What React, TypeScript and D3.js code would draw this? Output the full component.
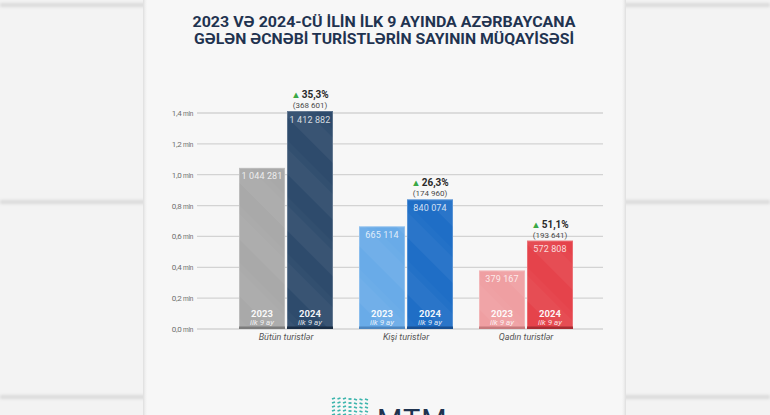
import React from "react";
import { scaleLinear, scaleBand, range } from "d3";

// data
const categories = ["Bütün turistlər", "Kişi turistlər", "Qadın turistlər"];
const years = ["2023", "2024"];
const values2023 = [1044281, 665114, 379167];
const values2024 = [1412882, 840074, 572808];
const changePct = ["35,3%", "26,3%", "51,1%"];
const changeAbs = ["(368 601)", "(174 960)", "(193 641)"];
const yTicks = [0, 200000, 400000, 600000, 800000, 1000000, 1200000, 1400000];
const yTickLabels = ["0,0", "0,2", "0,4", "0,6", "0,8", "1,0", "1,2", "1,4"];
const titleLines = [
  "2023 VƏ 2024-CÜ İLİN İLK 9 AYINDA AZƏRBAYCANA",
  "GƏLƏN ƏCNƏBİ TURİSTLƏRİN SAYININ MÜQAYİSƏSİ",
];

const barColors = [
  ["#a9a9a9", "#2e4b6c"],
  ["#69abe8", "#1f6ec6"],
  ["#ef9fa2", "#e5434b"],
];
const bottomColors = [
  ["#7c7c7c", "#1a2d44"],
  ["#4d86c0", "#184f92"],
  ["#c77a7d", "#a82c33"],
];

const fmt = (v: number) =>
  String(v).replace(/\B(?=(\d{3})+(?!\d))/g, " ");

const W = 770;
const H = 415;
const FONT = "Roboto, 'Noto Sans', sans-serif";

export default function App() {
  const y = scaleLinear().domain([0, 1400000]).range([329, 113]);
  const x = scaleBand<string>().domain(categories).range([226, 586]);
  const xi = scaleBand<string>()
    .domain(years)
    .range([0, 94])
    .paddingInner(2 / 48);
  const bw = xi.bandwidth();
  // left edge of a group's pair of bars, centred in its band
  const groupX = (c: string) => x(c)! + x.bandwidth() / 2 - 47;

  const grooves = [5, 202, 397];

  return (
    <div style={{ position: "absolute", left: 0, top: 0 }}>
      <svg width={W} height={H} style={{ display: "block" }}>
        <defs>
          <pattern
            id="stripes"
            patternUnits="userSpaceOnUse"
            width="40"
            height="40"
            patternTransform="rotate(-45)"
          >
            <rect width="18" height="40" fill="#fff" opacity="0.05" />
            <rect x="18" width="6" height="40" fill="#fff" opacity="0.02" />
          </pattern>
          <filter id="blur" x="-5%" y="-200%" width="110%" height="500%">
            <feGaussianBlur stdDeviation="1.8" />
          </filter>
          <linearGradient id="panelEdgeL" x1="0" x2="1">
            <stop offset="0" stopColor="#dddddd" />
            <stop offset="1" stopColor="#f7f7f7" stopOpacity="0" />
          </linearGradient>
          <linearGradient id="panelEdgeR" x1="1" x2="0">
            <stop offset="0" stopColor="#dddddd" />
            <stop offset="1" stopColor="#f7f7f7" stopOpacity="0" />
          </linearGradient>
        </defs>

        {/* page background */}
        <rect width={W} height={H} fill="#f3f3f3" />
        {grooves.map((gy) => (
          <g key={gy} filter="url(#blur)">
            <rect x={0} y={gy - 2} width={W} height={4} fill="#dadada" />
          </g>
        ))}

        {/* panel */}
        <rect x={143} y={0} width={483} height={H} fill="#f7f7f7" />
        <rect x={143} y={0} width={5} height={H} fill="url(#panelEdgeL)" />
        <rect x={621} y={0} width={5} height={H} fill="url(#panelEdgeR)" />

        {/* title */}
        {titleLines.map((t, i) => (
          <text
            key={i}
            x={384}
            y={27 + i * 16.5}
            textAnchor="middle"
            fontFamily={FONT}
            fontWeight={700}
            fontSize={15.5}
            fill="#1f3350"
            textLength={i === 0 ? 383 : 380}
            lengthAdjust="spacingAndGlyphs"
          >
            {t}
          </text>
        ))}

        {/* grid + y labels */}
        {yTicks.map((t, i) => (
          <g key={t}>
            <line
              x1={197}
              x2={603}
              y1={y(t)}
              y2={y(t)}
              stroke="#d3d3d3"
              strokeWidth={1.3}
            />
            <text
              x={193}
              y={y(t) + 3}
              textAnchor="end"
              fontFamily={FONT}
              fontSize={8}
              fill="#6f6f6f"
              letterSpacing={-0.3}
            >
              {yTickLabels[i]}
              <tspan fontSize={6.5} dx={1.5}>
                mln
              </tspan>
            </text>
          </g>
        ))}

        {/* bars */}
        {categories.map((c, ci) => {
          const vals = [values2023[ci], values2024[ci]];
          const x0 = groupX(c);
          const cx = x0 + xi("2024")! + bw / 2;
          const top24 = y(vals[1]);
          return (
            <g key={c}>
              {years.map((yr, yi) => {
                const bx = x0 + xi(yr)!;
                const top = y(vals[yi]);
                const h = y(0) - top;
                return (
                  <g key={yr}>
                    <rect
                      x={bx}
                      y={top}
                      width={bw}
                      height={h}
                      fill={barColors[ci][yi]}
                    />
                    <rect
                      x={bx}
                      y={top}
                      width={bw}
                      height={h}
                      fill="url(#stripes)"
                    />
                    <rect
                      x={bx + 0.5}
                      y={top + 0.5}
                      width={bw - 1}
                      height={h - 1}
                      fill="none"
                      stroke="#fff"
                      strokeOpacity={0.22}
                    />
                    <rect
                      x={bx}
                      y={y(0) - 2.5}
                      width={bw}
                      height={2.5}
                      fill={bottomColors[ci][yi]}
                    />
                    <text
                      x={bx + bw / 2}
                      y={top + 11.5}
                      textAnchor="middle"
                      fontFamily={FONT}
                      fontSize={9}
                      fill="#fff"
                      fillOpacity={0.8}
                      letterSpacing={0.1}
                    >
                      {fmt(vals[yi])}
                    </text>
                    <text
                      x={bx + bw / 2}
                      y={317}
                      textAnchor="middle"
                      fontFamily={FONT}
                      fontWeight={700}
                      fontSize={9.5}
                      fill="#fff"
                      fillOpacity={0.95}
                    >
                      {yr}
                    </text>
                    <text
                      x={bx + bw / 2}
                      y={325}
                      textAnchor="middle"
                      fontFamily={FONT}
                      fontStyle="italic"
                      fontSize={8}
                      fill="#fff"
                      fillOpacity={0.85}
                    >
                      ilk 9 ay
                    </text>
                  </g>
                );
              })}
              {/* change annotation over the 2024 bar */}
              <text
                x={cx}
                y={top24 - 13}
                textAnchor="middle"
                fontFamily={FONT}
                fontWeight={700}
                fontSize={10}
                fill="#2a2a2a"
              >
                <tspan fill="#3aa845" fontSize={9.5}>
                  ▲
                </tspan>
                <tspan dx={1}>{changePct[ci]}</tspan>
              </text>
              <text
                x={cx}
                y={top24 - 3}
                textAnchor="middle"
                fontFamily={FONT}
                fontSize={8}
                fill="#4a4a4a"
              >
                {changeAbs[ci]}
              </text>
              <text
                x={x(c)! + x.bandwidth() / 2}
                y={340}
                textAnchor="middle"
                fontFamily={FONT}
                fontStyle="italic"
                fontSize={9}
                fill="#555"
              >
                {c}
              </text>
            </g>
          );
        })}

        {/* logo at the bottom, cut off by the frame as in the picture */}
        <g>
          {range(5).map((r) =>
            range(7).map((k) => (
              <line
                key={`${r}-${k}`}
                x1={332 + k * 5.5}
                x2={335 + k * 5.5}
                y1={399 + r * 4}
                y2={399 + r * 4 - (k < 3 ? 1 : k > 3 ? -1 : 0)}
                stroke="#3db5ad"
                strokeWidth={1.8}
              />
            ))
          )}
          <text
            x={377}
            y={430}
            fontFamily={FONT}
            fontSize={29}
            fill="#1f3350"
            letterSpacing={1}
          >
            MTM
          </text>
        </g>
      </svg>
    </div>
  );
}
